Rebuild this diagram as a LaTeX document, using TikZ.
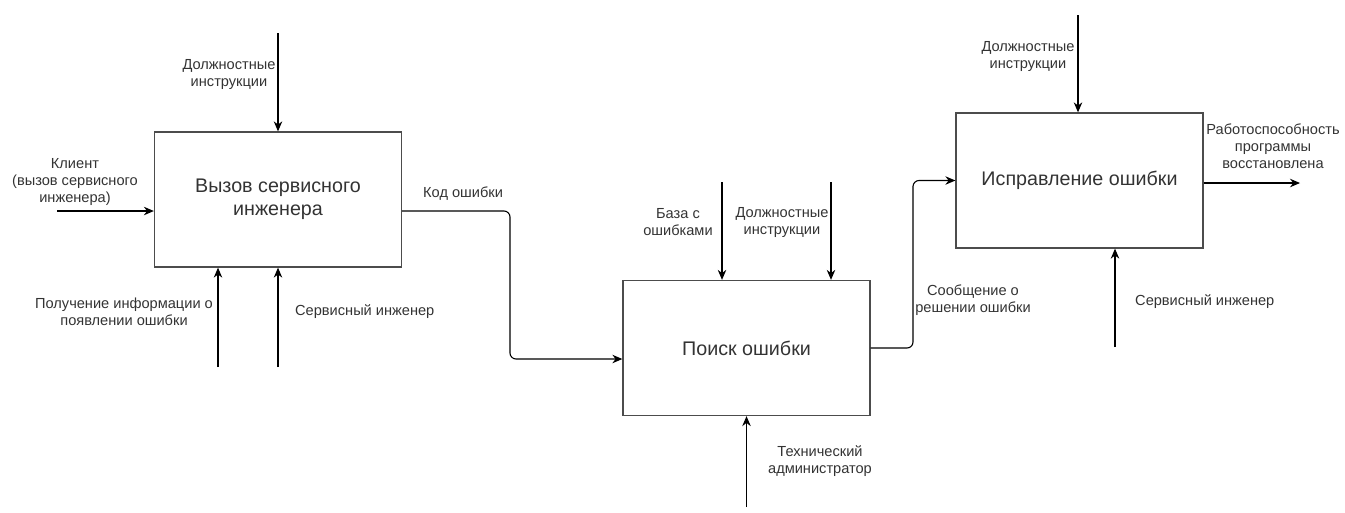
\documentclass[tikz,border=0pt]{standalone}
\usepackage{fontspec}
\setmainfont{Liberation Sans}
\usetikzlibrary{arrows.meta}

\begin{document}
\begin{tikzpicture}[x=1pt,y=-1pt,
  block/.style={draw=black!70,line width=1.3pt,minimum width=247pt,minimum height=135pt,
    font=\fontsize{19.7}{23}\selectfont,align=center,text=black!80},
  lbl/.style={font=\fontsize{14.6}{17}\selectfont,align=center,inner sep=0pt,text=black!80},
  arr/.style={-{Stealth[length=10pt,width=8.5pt]},line width=1.1pt,rounded corners=6pt}]
\useasboundingbox (0,0) rectangle (1345,512);

\node[block] (call) at (278,199.5) {Вызов сервисного\\инженера};
\node[block] (search) at (746.5,348) {Поиск ошибки};
\node[block] (fix) at (1079.5,180.5) {Исправление ошибки};

\coordinate (callctl) at (278,33);
\coordinate (callin) at (57,211);
\coordinate (callmecha) at (218,367);
\coordinate (callmechb) at (278,367);
\coordinate (bendA) at (510,211);
\coordinate (searchctla) at (722,182);
\coordinate (searchctlb) at (831,182);
\coordinate (searchmech) at (746.5,507);
\coordinate (bendB) at (913,348);
\coordinate (fixctl) at (1078,15);
\coordinate (fixout) at (1300,183);
\coordinate (fixmech) at (1115,347);

\draw[arr] (callctl) -- (call.north);
\draw[arr] (callin) -- (callin -| call.west);
\draw[arr] (callmecha) -- (callmecha |- call.south);
\draw[arr] (callmechb) -- (call.south);
\draw[arr] (bendA -| call.east) -- (bendA) |- (0,359 -| search.west);

\draw[arr] (searchctla) -- (searchctla |- search.north);
\draw[arr] (searchctlb) -- (searchctlb |- search.north);
\draw[arr] (searchmech) -- (search.south);
\draw[arr] (search.east) -- (bendB) |- (fix.west);

\draw[arr] (fixctl) -- (fixctl |- fix.north);
\draw[arr] (fixout -| fix.east) -- (fixout);
\draw[arr] (fixmech) -- (fixmech |- fix.south);

\node[lbl] (callctltxt) at (229,74) {Должностные\\инструкции};
\node[lbl] (callintxt) at (75,182) {Клиент\\(вызов сервисного\\инженера)};
\node[lbl] (callmechatxt) at (124,312) {Получение информации о\\появлении ошибки};
\node[lbl,anchor=west] (callmechbtxt) at (295,312) {Сервисный инженер};
\node[lbl,anchor=west] (callouttxt) at (423,194) {Код ошибки};
\node[lbl] (searchctlatxt) at (678,222) {База с\\ошибками};
\node[lbl] (searchctlbtxt) at (782,222) {Должностные\\инструкции};
\node[lbl] (searchmechtxt) at (820,461) {Технический\\администратор};
\node[lbl] (searchouttxt) at (973,300) {Сообщение о\\решении ошибки};
\node[lbl] (fixctltxt) at (1028,56) {Должностные\\инструкции};
\node[lbl] (fixouttxt) at (1273,146) {Работоспособность\\программы\\восстановлена};
\node[lbl,anchor=west] (fixmechtxt) at (1135,302) {Сервисный инженер};
\end{tikzpicture}
\end{document}
